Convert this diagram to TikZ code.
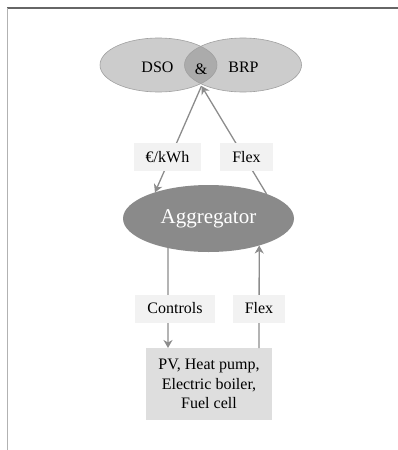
\documentclass[tikz,border=0pt]{standalone}
\usepackage{fontspec}
\setmainfont{Liberation Serif}
\usetikzlibrary{arrows.meta,positioning,shapes.geometric}
\definecolor{partyfill}{HTML}{CCCCCC}
\definecolor{partyline}{HTML}{A0A0A0}
\definecolor{lensfill}{HTML}{ABABAB}
\definecolor{aggfill}{HTML}{8A8A8A}
\definecolor{unitfill}{HTML}{DEDEDE}
\definecolor{tagfill}{HTML}{F2F2F2}
\definecolor{flowline}{HTML}{8C8C8C}

\begin{document}
\begin{tikzpicture}[x=1pt,y=-1pt]
\tikzset{
  party/.style={ellipse,fill=partyfill,minimum width=117pt,minimum height=54pt,inner sep=0pt,outer sep=0pt},
  partytext/.style={inner sep=0pt,font=\fontsize{16}{19}\selectfont},
  aggnode/.style={ellipse,fill=aggfill,minimum width=171pt,minimum height=67pt,inner sep=0pt,outer sep=0pt,text=white,font=\fontsize{21}{24}\selectfont},
  unitbox/.style={rectangle,fill=unitfill,minimum width=126pt,minimum height=72pt,inner sep=0pt,outer sep=0pt,align=center,font=\fontsize{16}{19.3}\selectfont},
  tagbox/.style={rectangle,fill=tagfill,minimum height=28pt,inner xsep=12pt,inner ysep=0pt,font=\fontsize{16}{19}\selectfont},
  flow/.style={-{Stealth[length=8pt,width=9pt,inset=2.5pt]},draw=flowline,line width=1.3pt},
  plainflow/.style={draw=flowline,line width=1.3pt}
}
\useasboundingbox (0,0) rectangle (398,450);
% frame
\draw[draw=black!60,line width=1.2pt] (7,8) -- (398,8);
\draw[draw=black!30,line width=1.5pt] (7.5,8) -- (7.5,450);

% DSO & BRP
\node[party] (n_dso) at (158.5,65) {};
\node[party] (n_brp) at (243,65) {};
\begin{scope}
  \clip (n_dso.center) ellipse [x radius=58.5pt,y radius=27pt];
  \fill[lensfill] (n_brp.center) ellipse [x radius=58.5pt,y radius=27pt];
\end{scope}
\draw[partyline,line width=0.6pt] (n_dso.center) ellipse [x radius=58.5pt,y radius=27pt];
\draw[partyline,line width=0.6pt] (n_brp.center) ellipse [x radius=58.5pt,y radius=27pt];
\node[partytext] (t_dso) at (157.5,67.5) {DSO};
\node[partytext] (t_brp) at (243.5,67.5) {BRP};
\node[partytext] (t_and) at (201,69) {\&};
\coordinate (tip) at (201.5,86);

% aggregator and units
\node[aggnode] (n_agg) at (208.5,218.5) {Aggregator};
\node[unitbox] (n_units) at (209,384) {PV, Heat pump,\\Electric boiler,\\Fuel cell};

% connectors
\draw[flow] (tip) -- (n_agg.154);
\draw[flow] (n_agg.23) -- (tip);
\draw[flow] (n_agg.216) -- ([xshift=22pt]n_units.north west);
\draw[flow] ([xshift=-13pt]n_units.north east) -- (n_agg.332);

% labels
\node[tagbox] (l_price) at (167.5,157) {€/kWh};
\node[tagbox] (l_flexup) at (246.5,157) {Flex};
\node[tagbox] (l_ctrl) at (175,308.5) {Controls};
\node[tagbox] (l_flexdn) at (259,308.5) {Flex};
\end{tikzpicture}
\end{document}
